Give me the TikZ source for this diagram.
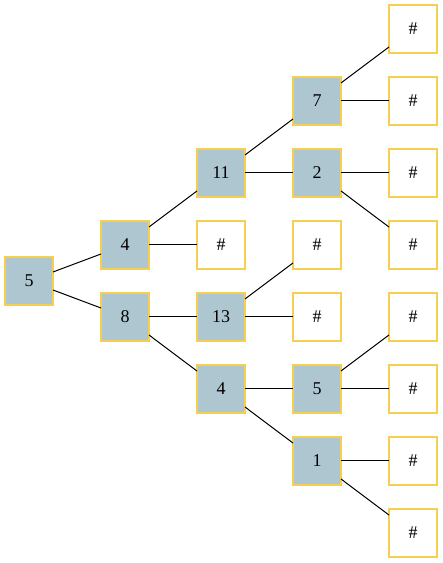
\documentclass[tikz,border=0pt]{standalone}
\usepackage{fontspec}
\setmainfont{Liberation Serif}
\usepackage{tikz}
\usetikzlibrary{positioning}
\definecolor{boxfill}{HTML}{AEC6CF}
\definecolor{boxline}{HTML}{F5D050}

\begin{document}
\begin{tikzpicture}[
    x=1pt, y=1pt,
    node distance=24pt and 48pt,
    valbox/.style={draw=boxline, fill=boxfill, line width=1.2pt, minimum size=48pt, inner sep=0pt, outer sep=0pt, font=\fontsize{18}{21}\selectfont},
    nullbox/.style={valbox, fill=white},
    edge/.style={line width=1pt}
]
    \useasboundingbox (0,0) rectangle (443,563);

    \node (r) [valbox] at (29,282) {5};
    \node (a) [valbox, above right=-12pt and 48pt of r] {4};
    \node (b) [valbox, below right=-12pt and 48pt of r] {8};

    \node (a1) [valbox, above right=of a] {11};
    \node (a2) [nullbox, right=of a] {\#};
    \node (b1) [valbox, right=of b] {13};
    \node (b2) [valbox, below right=of b] {4};

    \node (a11) [valbox, above right=of a1] {7};
    \node (a12) [valbox, right=of a1] {2};
    \node (b11) [nullbox, above right=of b1] {\#};
    \node (b12) [nullbox, right=of b1] {\#};
    \node (b21) [valbox, right=of b2] {5};
    \node (b22) [valbox, below right=of b2] {1};

    \node (l1) [nullbox, above right=of a11] {\#};
    \node (l2) [nullbox, right=of a11] {\#};
    \node (l3) [nullbox, right=of a12] {\#};
    \node (l4) [nullbox, below right=of a12] {\#};
    \node (l5) [nullbox, above right=of b21] {\#};
    \node (l6) [nullbox, right=of b21] {\#};
    \node (l7) [nullbox, right=of b22] {\#};
    \node (l8) [nullbox, below right=of b22] {\#};

    \draw [edge] (r) -- (a);
    \draw [edge] (r) -- (b);
    \draw [edge] (a) -- (a1);
    \draw [edge] (a) -- (a2);
    \draw [edge] (b) -- (b1);
    \draw [edge] (b) -- (b2);
    \draw [edge] (a1) -- (a11);
    \draw [edge] (a1) -- (a12);
    \draw [edge] (b1) -- (b11);
    \draw [edge] (b1) -- (b12);
    \draw [edge] (b2) -- (b21);
    \draw [edge] (b2) -- (b22);
    \draw [edge] (a11) -- (l1);
    \draw [edge] (a11) -- (l2);
    \draw [edge] (a12) -- (l3);
    \draw [edge] (a12) -- (l4);
    \draw [edge] (b21) -- (l5);
    \draw [edge] (b21) -- (l6);
    \draw [edge] (b22) -- (l7);
    \draw [edge] (b22) -- (l8);
\end{tikzpicture}
\end{document}
